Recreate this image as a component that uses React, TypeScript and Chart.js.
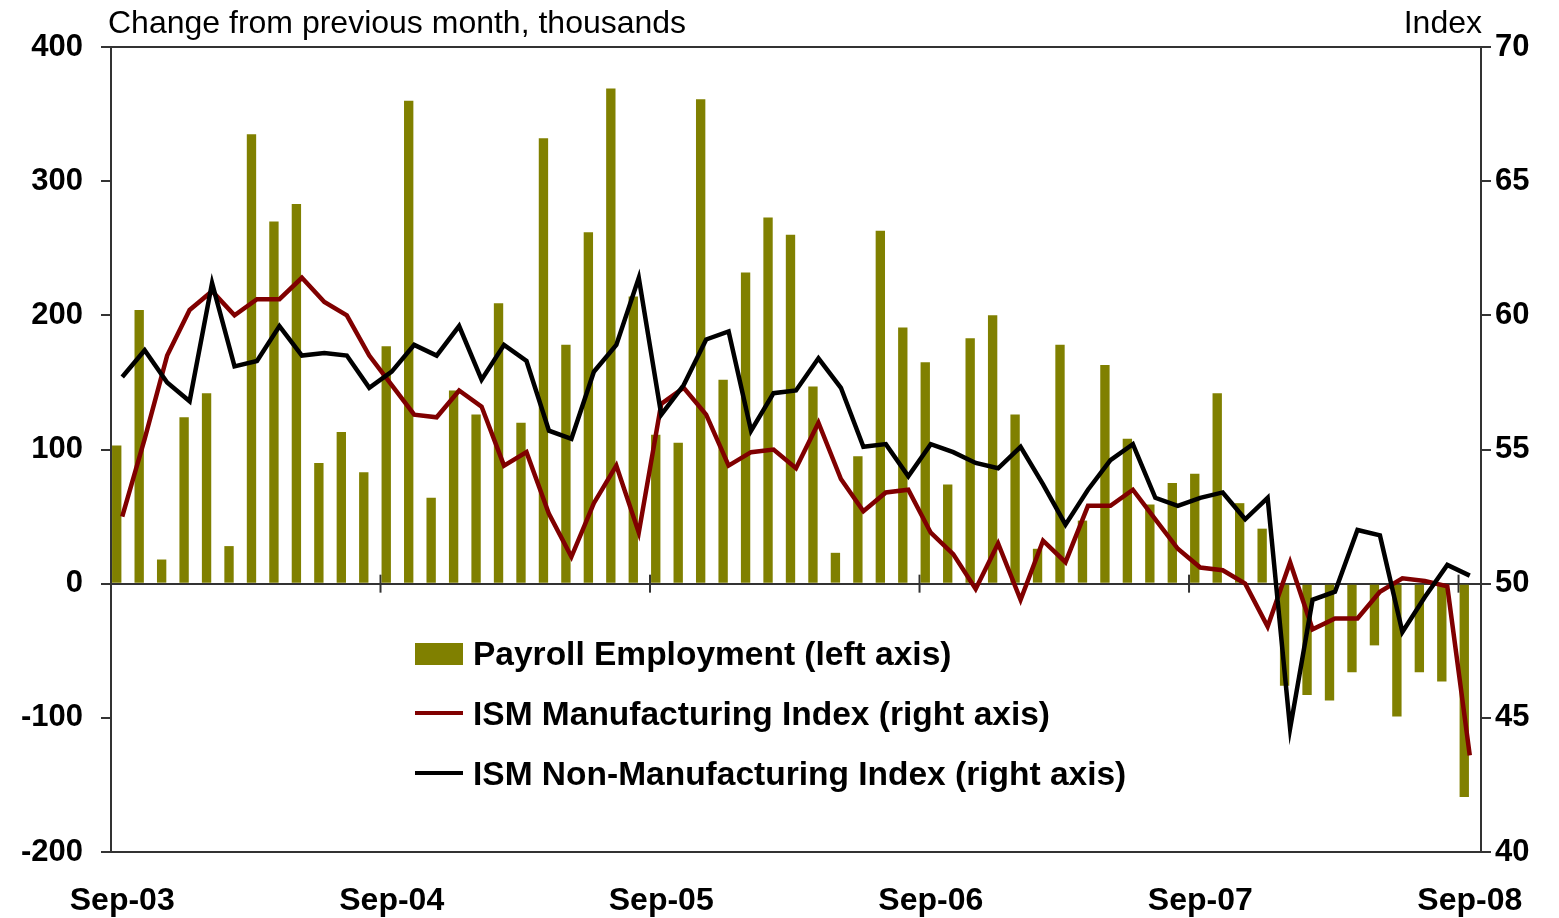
import React, { useEffect, useRef } from 'react';
import { Chart, registerables } from 'chart.js';

Chart.register(...registerables);

const FONT = "'Liberation Sans', Arial, Helvetica, sans-serif";

const months = [
  'Sep-03', 'Oct-03', 'Nov-03', 'Dec-03', 'Jan-04', 'Feb-04', 'Mar-04', 'Apr-04', 'May-04', 'Jun-04', 'Jul-04', 'Aug-04',
  'Sep-04', 'Oct-04', 'Nov-04', 'Dec-04', 'Jan-05', 'Feb-05', 'Mar-05', 'Apr-05', 'May-05', 'Jun-05', 'Jul-05', 'Aug-05',
  'Sep-05', 'Oct-05', 'Nov-05', 'Dec-05', 'Jan-06', 'Feb-06', 'Mar-06', 'Apr-06', 'May-06', 'Jun-06', 'Jul-06', 'Aug-06',
  'Sep-06', 'Oct-06', 'Nov-06', 'Dec-06', 'Jan-07', 'Feb-07', 'Mar-07', 'Apr-07', 'May-07', 'Jun-07', 'Jul-07', 'Aug-07',
  'Sep-07', 'Oct-07', 'Nov-07', 'Dec-07', 'Jan-08', 'Feb-08', 'Mar-08', 'Apr-08', 'May-08', 'Jun-08', 'Jul-08', 'Aug-08',
  'Sep-08',
];

const xTickLabels = ['Sep-03', 'Sep-04', 'Sep-05', 'Sep-06', 'Sep-07', 'Sep-08'];

const payroll = [
  103, 204, 18, 124, 142, 28, 335, 270, 283, 90, 113, 83,
  177, 360, 64, 144, 126, 209, 120, 332, 178, 262, 369, 214,
  111, 105, 361, 152, 232, 273, 260, 147, 23, 95, 263, 191,
  165, 74, 183, 200, 126, 26, 178, 47, 163, 108, 59, 75,
  82, 142, 60, 41, -76, -83, -87, -66, -46, -99, -66, -73,
  -159,
];

const ismManufacturing = [
  52.5, 55.4, 58.5, 60.2, 60.9, 60.0, 60.6, 60.6, 61.4, 60.5, 60.0, 58.5,
  57.4, 56.3, 56.2, 57.2, 56.6, 54.4, 54.9, 52.6, 51.0, 53.0, 54.4, 51.9,
  56.7, 57.3, 56.3, 54.4, 54.9, 55.0, 54.3, 56.0, 53.9, 52.7, 53.4, 53.5,
  51.9, 51.1, 49.8, 51.5, 49.4, 51.6, 50.8, 52.9, 52.9, 53.5, 52.4, 51.3,
  50.6, 50.5, 50.0, 48.4, 50.8, 48.3, 48.7, 48.7, 49.7, 50.2, 50.1, 49.9,
  43.6,
];

const ismNonManufacturing = [
  57.7, 58.7, 57.5, 56.8, 61.2, 58.1, 58.3, 59.6, 58.5, 58.6, 58.5, 57.3,
  57.9, 58.9, 58.5, 59.6, 57.6, 58.9, 58.3, 55.7, 55.4, 57.9, 58.9, 61.4,
  56.3, 57.4, 59.1, 59.4, 55.7, 57.1, 57.2, 58.4, 57.3, 55.1, 55.2, 54.0,
  55.2, 54.9, 54.5, 54.3, 55.1, 53.7, 52.2, 53.5, 54.6, 55.2, 53.2, 52.9,
  53.2, 53.4, 52.4, 53.2, 44.6, 49.4, 49.7, 52.0, 51.8, 48.2, 49.5, 50.7,
  50.3,
];

const leftTicks = { min: -200, max: 400, step: 100 };
const rightTicks = { min: 40, max: 70, step: 5 };

const seriesNames = [
  'Payroll Employment (left axis)',
  'ISM Manufacturing Index (right axis)',
  'ISM Non-Manufacturing Index (right axis)',
];
const seriesColors = ['#808000', '#800000', '#000000'];

const AXIS = '#333333';

export default function App() {
  const ref = useRef<HTMLCanvasElement>(null);

  useEffect(() => {
    const canvas = ref.current;
    if (!canvas) return;

    const framePlugin = {
      id: 'framePlugin',
      beforeDatasetsDraw(chart: any) {
        const { ctx, scales } = chart;
        const xs = scales.x;
        const y0 = scales.y.getPixelForValue(0);
        ctx.save();
        ctx.strokeStyle = AXIS;
        ctx.lineWidth = 2;
        months.forEach((m, i) => {
          if (i === 0 || !xTickLabels.includes(m)) return;
          const px = (xs.getPixelForValue(i) + xs.getPixelForValue(i - 1)) / 2;
          ctx.beginPath();
          ctx.moveTo(px, y0 - 9);
          ctx.lineTo(px, y0 + 9);
          ctx.stroke();
        });
        ctx.restore();
      },
      afterDraw(chart: any) {
        const { ctx, chartArea } = chart;
        ctx.save();
        ctx.strokeStyle = AXIS;
        ctx.lineWidth = 2;
        ctx.beginPath();
        ctx.moveTo(chartArea.left, chartArea.top);
        ctx.lineTo(chartArea.right, chartArea.top);
        ctx.stroke();
        ctx.restore();
      },
    };

    const chart = new Chart(canvas, {
      type: 'bar',
      data: {
        labels: months,
        datasets: [
          {
            type: 'line',
            label: seriesNames[2],
            data: ismNonManufacturing,
            yAxisID: 'y2',
            borderColor: seriesColors[2],
            backgroundColor: seriesColors[2],
            borderWidth: 4.5,
            pointRadius: 0,
            tension: 0,
            order: 1,
          },
          {
            type: 'line',
            label: seriesNames[1],
            data: ismManufacturing,
            yAxisID: 'y2',
            borderColor: seriesColors[1],
            backgroundColor: seriesColors[1],
            borderWidth: 4.5,
            pointRadius: 0,
            tension: 0,
            order: 2,
          },
          {
            type: 'bar',
            label: seriesNames[0],
            data: payroll,
            yAxisID: 'y',
            backgroundColor: seriesColors[0],
            borderWidth: 0,
            categoryPercentage: 0.98,
            barPercentage: 0.85,
            order: 3,
          },
          {
            type: 'bar',
            label: '',
            data: months.map(() => null),
            yAxisID: 'y',
            backgroundColor: 'rgba(0,0,0,0)',
            categoryPercentage: 0.98,
            barPercentage: 0.85,
            order: 4,
          },
        ],
      },
      options: {
        animation: false,
        responsive: false,
        devicePixelRatio: 1,
        layout: { padding: { top: 47, left: 0, right: 0, bottom: 0 } },
        plugins: {
          legend: { display: false },
          tooltip: { enabled: false },
          title: { display: false },
        },
        scales: {
          x: {
            type: 'category',
            offset: true,
            grid: { display: false, drawTicks: false },
            border: { display: true, color: AXIS, width: 2 },
            ticks: {
              autoSkip: false,
              maxRotation: 0,
              minRotation: 0,
              padding: 30,
              color: '#000',
              font: { family: FONT, size: 32, weight: 'bold' },
              callback: (_v: any, i: number) => (xTickLabels.includes(months[i]) ? months[i] : ''),
            },
            afterFit: (s: any) => {
              s.height = 66;
            },
          },
          y: {
            position: 'left',
            min: leftTicks.min,
            max: leftTicks.max,
            ticks: {
              stepSize: leftTicks.step,
              padding: 18,
              color: '#000',
              font: { family: FONT, size: 31, weight: 'bold' },
            },
            grid: {
              drawOnChartArea: true,
              color: (ctx: any) => (ctx.tick && ctx.tick.value === 0 ? AXIS : 'rgba(0,0,0,0)'),
              lineWidth: 2,
              tickColor: AXIS,
              tickLength: 10,
              tickWidth: 2,
            },
            border: { display: true, color: AXIS, width: 2 },
            afterFit: (s: any) => {
              s.width = 111;
            },
          },
          y2: {
            position: 'right',
            min: rightTicks.min,
            max: rightTicks.max,
            ticks: {
              stepSize: rightTicks.step,
              padding: 4,
              color: '#000',
              font: { family: FONT, size: 31, weight: 'bold' },
            },
            grid: {
              drawOnChartArea: false,
              tickColor: AXIS,
              tickLength: 10,
              tickWidth: 2,
              lineWidth: 2,
            },
            border: { display: true, color: AXIS, width: 2 },
            afterFit: (s: any) => {
              s.width = 78;
            },
          },
        },
      },
      plugins: [framePlugin],
    } as any);

    return () => {
      chart.destroy();
    };
  }, []);

  const textBase: React.CSSProperties = {
    position: 'absolute',
    fontFamily: FONT,
    whiteSpace: 'nowrap',
    color: '#000',
  };

  return (
    <div style={{ position: 'fixed', left: 0, top: 0, width: 1559, height: 918, background: '#fff', overflow: 'hidden' }}>
      <canvas ref={ref} width={1559} height={918} style={{ display: 'block', width: 1559, height: 918 }} />
      <div style={{ ...textBase, left: 108, top: 6, fontSize: 32, lineHeight: '32px' }}>
        Change from previous month, thousands
      </div>
      <div style={{ ...textBase, right: 1559 - 1482, top: 6, fontSize: 32, lineHeight: '32px' }}>Index</div>

      <div style={{ position: 'absolute', left: 415, top: 643, width: 48, height: 22, background: seriesColors[0] }} />
      <div style={{ position: 'absolute', left: 415, top: 711, width: 48, height: 4, background: seriesColors[1] }} />
      <div style={{ position: 'absolute', left: 415, top: 771, width: 48, height: 4, background: seriesColors[2] }} />
      <div style={{ ...textBase, left: 473, top: 637, fontSize: 33.5, fontWeight: 'bold', lineHeight: '33px' }}>{seriesNames[0]}</div>
      <div style={{ ...textBase, left: 473, top: 697, fontSize: 33.5, fontWeight: 'bold', lineHeight: '33px' }}>{seriesNames[1]}</div>
      <div style={{ ...textBase, left: 473, top: 757, fontSize: 33.5, fontWeight: 'bold', lineHeight: '33px' }}>{seriesNames[2]}</div>
    </div>
  );
}
